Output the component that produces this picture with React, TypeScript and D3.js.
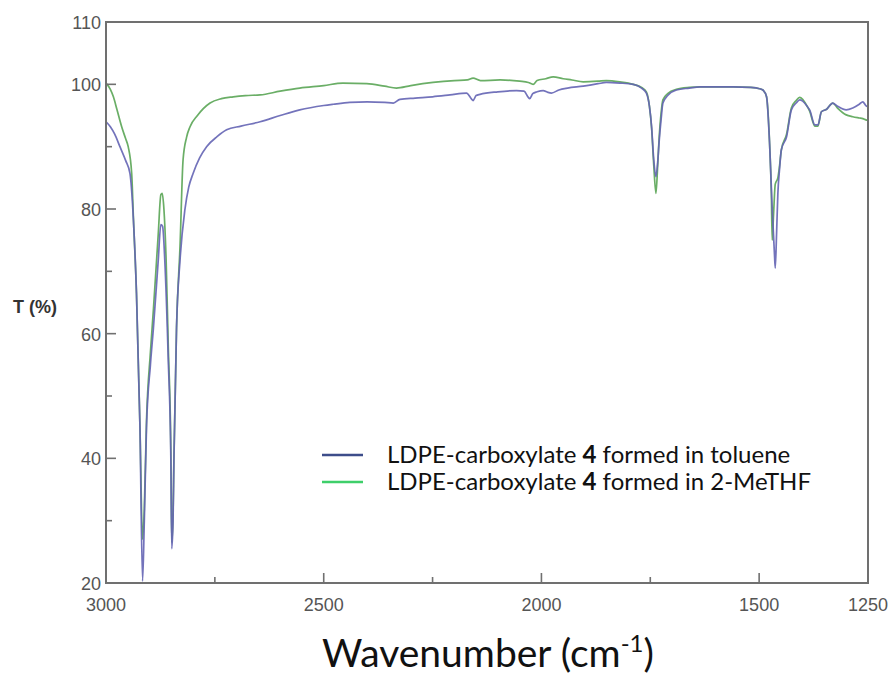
import React from "react";
import * as d3 from "d3";

const xTicksMajor = [3000, 2500, 2000, 1500, 1250];
const xTicksMinor = [2750, 2250, 1750];
const yTickLabels = [110, 100, 80, 60, 40, 20];
const yTicksMajor = [100, 80, 60, 40];
const yTicksMinor = [90, 70, 50, 30];

const wnToluene = [3000, 2990, 2980, 2968, 2955, 2945, 2937, 2930, 2922, 2916, 2912, 2907, 2898, 2891, 2880, 2874, 2870, 2865, 2857, 2851, 2849, 2846, 2844, 2838, 2830, 2819, 2810, 2800, 2785, 2769, 2745, 2723, 2690, 2646, 2600, 2555, 2500, 2478, 2440, 2400, 2360, 2340, 2325, 2290, 2250, 2210, 2172, 2160, 2157, 2150, 2141, 2100, 2057, 2040, 2030, 2027, 2020, 2010, 1996, 1985, 1977, 1960, 1940, 1904, 1870, 1851, 1820, 1789, 1770, 1759, 1752, 1747, 1742, 1737, 1733, 1730, 1725, 1721, 1710, 1690, 1660, 1636, 1600, 1560, 1520, 1499, 1490, 1483, 1476, 1470, 1465, 1463, 1460, 1457, 1453, 1449, 1437, 1426, 1415, 1407, 1400, 1390, 1384, 1372, 1365, 1357, 1345, 1331, 1320, 1300, 1285, 1270, 1262, 1255, 1250];
const tToluene = [94.0, 93.2, 92.0, 90.0, 87.8, 85.7, 78.2, 66.5, 45, 20.3, 30, 45, 55, 61, 71.8, 77.5, 77.2, 71.8, 55.8, 39.7, 25.5, 30, 39.7, 61, 71.8, 79.8, 83.5, 85.7, 88.2, 90, 91.6, 92.7, 93.3, 94.0, 95.0, 95.9, 96.6, 96.8, 97.1, 97.2, 97.1, 97.0, 97.6, 97.8, 98.0, 98.3, 98.6, 97.6, 97.4, 98.2, 98.4, 98.8, 99.0, 98.9, 97.9, 97.7, 98.5, 98.8, 99.0, 98.7, 98.6, 99.1, 99.4, 99.7, 100.1, 100.3, 100.2, 100.0, 99.4, 98.6, 96.5, 93.2, 87.9, 85.2, 87.5, 90.5, 94.5, 97.0, 98.2, 99.1, 99.4, 99.6, 99.6, 99.6, 99.5, 99.3, 99.0, 98.0, 90.5, 80, 73, 70.5, 76, 82.5, 86.5, 89.5, 91.6, 95.9, 97.0, 97.5, 97.3, 96.5, 95.9, 93.5, 93.5, 95.6, 96.0, 97.0, 96.5, 95.9, 96.2, 96.8, 97.2, 96.6, 96.4];

const wnMeTHF = [3000, 2990, 2983, 2975, 2964, 2955, 2949, 2941, 2937, 2930, 2922, 2916, 2912, 2907, 2898, 2891, 2880, 2874, 2871, 2867, 2862, 2857, 2851, 2849, 2846, 2844, 2838, 2830, 2823, 2815, 2807, 2790, 2761, 2735, 2708, 2680, 2646, 2600, 2555, 2500, 2456, 2401, 2360, 2333, 2300, 2249, 2200, 2170, 2157, 2140, 2095, 2050, 2030, 2019, 2010, 1990, 1973, 1950, 1930, 1904, 1870, 1851, 1820, 1789, 1770, 1759, 1752, 1747, 1742, 1737, 1733, 1730, 1725, 1721, 1710, 1690, 1660, 1636, 1600, 1560, 1520, 1499, 1490, 1483, 1476, 1472, 1470, 1467, 1463, 1457, 1453, 1449, 1437, 1426, 1415, 1407, 1400, 1390, 1384, 1372, 1365, 1357, 1345, 1331, 1320, 1300, 1285, 1270, 1262, 1255, 1250];
const tMeTHF = [100.2, 99.2, 98.0, 96, 93.2, 91.3, 90, 85.7, 78.5, 66.5, 45, 27, 32, 46, 57, 64, 76, 82.3, 82.5, 80, 72, 58, 41, 26.5, 31, 40, 61, 74, 87.9, 91.5, 93.2, 95, 97, 97.7, 98.0, 98.2, 98.3, 98.9, 99.4, 99.8, 100.2, 100.1, 99.7, 99.4, 99.8, 100.3, 100.6, 100.7, 101.0, 100.6, 100.7, 100.5, 100.3, 100.0, 100.6, 100.9, 101.2, 100.9, 100.7, 100.4, 100.5, 100.6, 100.4, 100.0, 99.5, 98.8, 96.5, 93, 87, 82.5, 87, 91, 95.5, 97.5, 98.5, 99.2, 99.5, 99.6, 99.6, 99.6, 99.5, 99.3, 99.0, 98.0, 90.5, 82.5, 75, 79, 84, 85, 87, 89.5, 92, 96.2, 97.4, 97.9, 97.6, 96.5, 95.7, 93.3, 93.3, 95.6, 96.0, 97.0, 96.2, 95.1, 94.8, 94.6, 94.5, 94.3, 94.2];

const legendLabels = ["formed in toluene", "formed in 2-MeTHF"];

const W = 892;
const H = 679;
const left = 106, right = 868, top = 22, bottom = 583;

export default function App() {
  const x = d3.scaleLinear().domain([3000, 1250]).range([left, right]);
  const y = d3.scaleLinear().domain([20, 110]).range([bottom, top]);
  const line = d3
    .line<[number, number]>()
    .x((d) => x(d[0]))
    .y((d) => y(d[1]))
    .curve(d3.curveMonotoneX);
  const tol = wnToluene.map((w, i) => [w, tToluene[i]] as [number, number]);
  const me = wnMeTHF.map((w, i) => [w, tMeTHF[i]] as [number, number]);
  const axisColor = "#707070";
  const tickFont = "'Liberation Sans', Arial, sans-serif";

  return (
    <svg width={W} height={H} style={{ position: "absolute", left: 0, top: 0, background: "#fff" }}>
      <rect x={0} y={0} width={W} height={H} fill="#fff" />
      {/* curves */}
      <path d={line(me) || ""} fill="none" stroke="#6aae66" strokeWidth={1.7} />
      <path d={line(tol) || ""} fill="none" stroke="#6464b4" strokeWidth={1.7} strokeOpacity={0.9} />
      {/* frame */}
      <rect x={left} y={top} width={right - left} height={bottom - top} fill="none" stroke={axisColor} strokeWidth={2} />
      {yTicksMajor.map((v) => (
        <line key={"ym" + v} x1={left} x2={left + 10} y1={y(v)} y2={y(v)} stroke={axisColor} strokeWidth={1.6} />
      ))}
      {yTicksMinor.map((v) => (
        <line key={"yn" + v} x1={left} x2={left + 6} y1={y(v)} y2={y(v)} stroke={axisColor} strokeWidth={1.6} />
      ))}
      {xTicksMajor.slice(1, 4).map((v) => (
        <line key={"xm" + v} x1={x(v)} x2={x(v)} y1={bottom} y2={bottom - 10} stroke={axisColor} strokeWidth={1.6} />
      ))}
      {xTicksMinor.map((v) => (
        <line key={"xn" + v} x1={x(v)} x2={x(v)} y1={bottom} y2={bottom - 6} stroke={axisColor} strokeWidth={1.6} />
      ))}
      {yTickLabels.map((v) => (
        <text key={"yl" + v} x={left - 5} y={y(v) + 7} textAnchor="end" fontFamily={tickFont} fontSize={18} fill="#555">
          {v}
        </text>
      ))}
      {xTicksMajor.map((v) => (
        <text key={"xl" + v} x={x(v)} y={611} textAnchor="middle" fontFamily={tickFont} fontSize={18} fill="#555">
          {v}
        </text>
      ))}
      <text x={13} y={313} fontFamily={tickFont} fontSize={18} fontWeight="bold" fill="#333">
        T (%)
      </text>
      {/* legend */}
      <line x1={322} x2={363} y1={455} y2={455} stroke="#3d4d8a" strokeWidth={2.5} />
      <line x1={322} x2={363} y1={482} y2={482} stroke="#3ecf6a" strokeWidth={2.5} />
      {legendLabels.map((l, i) => (
        <text key={l} x={387} y={463 + i * 27} fontFamily="Lato, 'Open Sans', sans-serif" fontSize={24} fill="#111">
          LDPE-carboxylate <tspan fontWeight="bold">4</tspan> {l}
        </text>
      ))}
      <text x={488} y={667} textAnchor="middle" fontFamily="Lato, 'Open Sans', sans-serif" fontSize={39} fill="#111">
        Wavenumber (cm<tspan dy={-15} fontSize={24}>-1</tspan><tspan dy={15}>)</tspan>
      </text>
    </svg>
  );
}
